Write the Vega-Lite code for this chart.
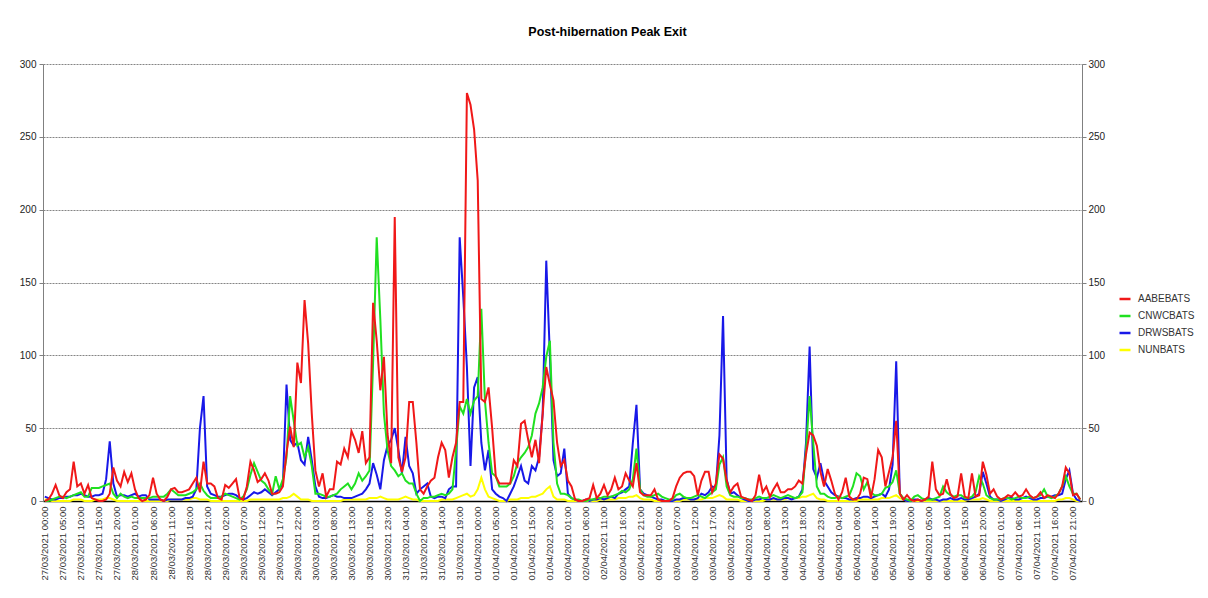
{
"$schema":"https://vega.github.io/schema/vega-lite/v6.json",
"autosize":{"type":"none"},
"width":1039,"height":437,
"padding":{"left":43,"top":64,"right":126,"bottom":97},
"background":"white",
"title":{"text":"Post-hibernation Peak Exit","fontSize":12.5,"fontWeight":"bold","font":"Liberation Sans","color":"#000","anchor":"middle","offset":21,"dx":45},
"config":{"view":{"stroke":null},"axis":{"labelFont":"Liberation Sans","labelFontSize":10,"labelColor":"#222","domainColor":"#808080","tickColor":"#808080","grid":false,"title":null},"legend":{"labelFont":"Liberation Sans"}},
"data":{"values":[
{"t":"27/03/2021 00:00","AABEBATS":0,"CNWCBATS":0,"DRWSBATS":3,"NUNBATS":1},
{"t":"27/03/2021 01:00","AABEBATS":1,"CNWCBATS":0,"DRWSBATS":2,"NUNBATS":1},
{"t":"27/03/2021 02:00","AABEBATS":5,"CNWCBATS":1,"DRWSBATS":1,"NUNBATS":0},
{"t":"27/03/2021 03:00","AABEBATS":11,"CNWCBATS":2,"DRWSBATS":1,"NUNBATS":0},
{"t":"27/03/2021 04:00","AABEBATS":4,"CNWCBATS":3,"DRWSBATS":2,"NUNBATS":0},
{"t":"27/03/2021 05:00","AABEBATS":2,"CNWCBATS":3,"DRWSBATS":2,"NUNBATS":0},
{"t":"27/03/2021 06:00","AABEBATS":6,"CNWCBATS":2,"DRWSBATS":3,"NUNBATS":0},
{"t":"27/03/2021 07:00","AABEBATS":8,"CNWCBATS":3,"DRWSBATS":3,"NUNBATS":0},
{"t":"27/03/2021 08:00","AABEBATS":27,"CNWCBATS":4,"DRWSBATS":4,"NUNBATS":1},
{"t":"27/03/2021 09:00","AABEBATS":10,"CNWCBATS":5,"DRWSBATS":4,"NUNBATS":1},
{"t":"27/03/2021 10:00","AABEBATS":12,"CNWCBATS":6,"DRWSBATS":5,"NUNBATS":1},
{"t":"27/03/2021 11:00","AABEBATS":5,"CNWCBATS":3,"DRWSBATS":4,"NUNBATS":0},
{"t":"27/03/2021 12:00","AABEBATS":11,"CNWCBATS":3,"DRWSBATS":3,"NUNBATS":0},
{"t":"27/03/2021 13:00","AABEBATS":2,"CNWCBATS":9,"DRWSBATS":3,"NUNBATS":0},
{"t":"27/03/2021 14:00","AABEBATS":1,"CNWCBATS":9,"DRWSBATS":4,"NUNBATS":1},
{"t":"27/03/2021 15:00","AABEBATS":0,"CNWCBATS":9,"DRWSBATS":4,"NUNBATS":1},
{"t":"27/03/2021 16:00","AABEBATS":0,"CNWCBATS":10,"DRWSBATS":5,"NUNBATS":1},
{"t":"27/03/2021 17:00","AABEBATS":1,"CNWCBATS":11,"DRWSBATS":15,"NUNBATS":2},
{"t":"27/03/2021 18:00","AABEBATS":5,"CNWCBATS":12,"DRWSBATS":41,"NUNBATS":2},
{"t":"27/03/2021 19:00","AABEBATS":23,"CNWCBATS":5,"DRWSBATS":12,"NUNBATS":1},
{"t":"27/03/2021 20:00","AABEBATS":14,"CNWCBATS":2,"DRWSBATS":3,"NUNBATS":0},
{"t":"27/03/2021 21:00","AABEBATS":10,"CNWCBATS":5,"DRWSBATS":4,"NUNBATS":0},
{"t":"27/03/2021 22:00","AABEBATS":20,"CNWCBATS":3,"DRWSBATS":4,"NUNBATS":0},
{"t":"27/03/2021 23:00","AABEBATS":13,"CNWCBATS":2,"DRWSBATS":3,"NUNBATS":0},
{"t":"28/03/2021 00:00","AABEBATS":19,"CNWCBATS":3,"DRWSBATS":4,"NUNBATS":0},
{"t":"28/03/2021 01:00","AABEBATS":8,"CNWCBATS":2,"DRWSBATS":5,"NUNBATS":0},
{"t":"28/03/2021 02:00","AABEBATS":2,"CNWCBATS":2,"DRWSBATS":3,"NUNBATS":0},
{"t":"28/03/2021 03:00","AABEBATS":0,"CNWCBATS":2,"DRWSBATS":4,"NUNBATS":0},
{"t":"28/03/2021 04:00","AABEBATS":1,"CNWCBATS":2,"DRWSBATS":4,"NUNBATS":0},
{"t":"28/03/2021 05:00","AABEBATS":4,"CNWCBATS":2,"DRWSBATS":1,"NUNBATS":0},
{"t":"28/03/2021 06:00","AABEBATS":16,"CNWCBATS":3,"DRWSBATS":1,"NUNBATS":0},
{"t":"28/03/2021 07:00","AABEBATS":5,"CNWCBATS":3,"DRWSBATS":1,"NUNBATS":0},
{"t":"28/03/2021 08:00","AABEBATS":1,"CNWCBATS":3,"DRWSBATS":1,"NUNBATS":0},
{"t":"28/03/2021 09:00","AABEBATS":0,"CNWCBATS":3,"DRWSBATS":0,"NUNBATS":0},
{"t":"28/03/2021 10:00","AABEBATS":3,"CNWCBATS":5,"DRWSBATS":1,"NUNBATS":0},
{"t":"28/03/2021 11:00","AABEBATS":8,"CNWCBATS":8,"DRWSBATS":1,"NUNBATS":1},
{"t":"28/03/2021 12:00","AABEBATS":9,"CNWCBATS":6,"DRWSBATS":1,"NUNBATS":1},
{"t":"28/03/2021 13:00","AABEBATS":6,"CNWCBATS":4,"DRWSBATS":1,"NUNBATS":1},
{"t":"28/03/2021 14:00","AABEBATS":6,"CNWCBATS":4,"DRWSBATS":1,"NUNBATS":1},
{"t":"28/03/2021 15:00","AABEBATS":7,"CNWCBATS":4,"DRWSBATS":2,"NUNBATS":1},
{"t":"28/03/2021 16:00","AABEBATS":8,"CNWCBATS":5,"DRWSBATS":2,"NUNBATS":1},
{"t":"28/03/2021 17:00","AABEBATS":12,"CNWCBATS":6,"DRWSBATS":3,"NUNBATS":2},
{"t":"28/03/2021 18:00","AABEBATS":16,"CNWCBATS":8,"DRWSBATS":8,"NUNBATS":2},
{"t":"28/03/2021 19:00","AABEBATS":6,"CNWCBATS":12,"DRWSBATS":50,"NUNBATS":1},
{"t":"28/03/2021 20:00","AABEBATS":27,"CNWCBATS":7,"DRWSBATS":72,"NUNBATS":1},
{"t":"28/03/2021 21:00","AABEBATS":12,"CNWCBATS":4,"DRWSBATS":10,"NUNBATS":1},
{"t":"28/03/2021 22:00","AABEBATS":12,"CNWCBATS":2,"DRWSBATS":5,"NUNBATS":0},
{"t":"28/03/2021 23:00","AABEBATS":10,"CNWCBATS":2,"DRWSBATS":4,"NUNBATS":0},
{"t":"29/03/2021 00:00","AABEBATS":2,"CNWCBATS":2,"DRWSBATS":3,"NUNBATS":0},
{"t":"29/03/2021 01:00","AABEBATS":1,"CNWCBATS":3,"DRWSBATS":3,"NUNBATS":0},
{"t":"29/03/2021 02:00","AABEBATS":11,"CNWCBATS":5,"DRWSBATS":4,"NUNBATS":0},
{"t":"29/03/2021 03:00","AABEBATS":9,"CNWCBATS":4,"DRWSBATS":5,"NUNBATS":0},
{"t":"29/03/2021 04:00","AABEBATS":12,"CNWCBATS":3,"DRWSBATS":5,"NUNBATS":0},
{"t":"29/03/2021 05:00","AABEBATS":15,"CNWCBATS":2,"DRWSBATS":4,"NUNBATS":0},
{"t":"29/03/2021 06:00","AABEBATS":2,"CNWCBATS":1,"DRWSBATS":2,"NUNBATS":0},
{"t":"29/03/2021 07:00","AABEBATS":1,"CNWCBATS":3,"DRWSBATS":1,"NUNBATS":0},
{"t":"29/03/2021 08:00","AABEBATS":10,"CNWCBATS":8,"DRWSBATS":2,"NUNBATS":0},
{"t":"29/03/2021 09:00","AABEBATS":27,"CNWCBATS":18,"DRWSBATS":4,"NUNBATS":1},
{"t":"29/03/2021 10:00","AABEBATS":21,"CNWCBATS":26,"DRWSBATS":6,"NUNBATS":1},
{"t":"29/03/2021 11:00","AABEBATS":13,"CNWCBATS":20,"DRWSBATS":5,"NUNBATS":1},
{"t":"29/03/2021 12:00","AABEBATS":15,"CNWCBATS":14,"DRWSBATS":6,"NUNBATS":1},
{"t":"29/03/2021 13:00","AABEBATS":19,"CNWCBATS":12,"DRWSBATS":8,"NUNBATS":1},
{"t":"29/03/2021 14:00","AABEBATS":14,"CNWCBATS":8,"DRWSBATS":6,"NUNBATS":1},
{"t":"29/03/2021 15:00","AABEBATS":5,"CNWCBATS":5,"DRWSBATS":4,"NUNBATS":1},
{"t":"29/03/2021 16:00","AABEBATS":5,"CNWCBATS":17,"DRWSBATS":6,"NUNBATS":1},
{"t":"29/03/2021 17:00","AABEBATS":6,"CNWCBATS":8,"DRWSBATS":8,"NUNBATS":1},
{"t":"29/03/2021 18:00","AABEBATS":10,"CNWCBATS":15,"DRWSBATS":12,"NUNBATS":2},
{"t":"29/03/2021 19:00","AABEBATS":33,"CNWCBATS":30,"DRWSBATS":80,"NUNBATS":2},
{"t":"29/03/2021 20:00","AABEBATS":51,"CNWCBATS":72,"DRWSBATS":42,"NUNBATS":3},
{"t":"29/03/2021 21:00","AABEBATS":37,"CNWCBATS":55,"DRWSBATS":38,"NUNBATS":5},
{"t":"29/03/2021 22:00","AABEBATS":95,"CNWCBATS":38,"DRWSBATS":40,"NUNBATS":3},
{"t":"29/03/2021 23:00","AABEBATS":81,"CNWCBATS":40,"DRWSBATS":28,"NUNBATS":1},
{"t":"30/03/2021 00:00","AABEBATS":138,"CNWCBATS":30,"DRWSBATS":25,"NUNBATS":1},
{"t":"30/03/2021 01:00","AABEBATS":108,"CNWCBATS":37,"DRWSBATS":44,"NUNBATS":1},
{"t":"30/03/2021 02:00","AABEBATS":60,"CNWCBATS":24,"DRWSBATS":28,"NUNBATS":0},
{"t":"30/03/2021 03:00","AABEBATS":21,"CNWCBATS":5,"DRWSBATS":10,"NUNBATS":0},
{"t":"30/03/2021 04:00","AABEBATS":10,"CNWCBATS":5,"DRWSBATS":3,"NUNBATS":0},
{"t":"30/03/2021 05:00","AABEBATS":19,"CNWCBATS":4,"DRWSBATS":2,"NUNBATS":0},
{"t":"30/03/2021 06:00","AABEBATS":3,"CNWCBATS":3,"DRWSBATS":2,"NUNBATS":0},
{"t":"30/03/2021 07:00","AABEBATS":8,"CNWCBATS":3,"DRWSBATS":3,"NUNBATS":0},
{"t":"30/03/2021 08:00","AABEBATS":8,"CNWCBATS":4,"DRWSBATS":4,"NUNBATS":0},
{"t":"30/03/2021 09:00","AABEBATS":27,"CNWCBATS":5,"DRWSBATS":3,"NUNBATS":0},
{"t":"30/03/2021 10:00","AABEBATS":25,"CNWCBATS":8,"DRWSBATS":3,"NUNBATS":0},
{"t":"30/03/2021 11:00","AABEBATS":36,"CNWCBATS":10,"DRWSBATS":2,"NUNBATS":1},
{"t":"30/03/2021 12:00","AABEBATS":30,"CNWCBATS":12,"DRWSBATS":2,"NUNBATS":1},
{"t":"30/03/2021 13:00","AABEBATS":48,"CNWCBATS":8,"DRWSBATS":2,"NUNBATS":1},
{"t":"30/03/2021 14:00","AABEBATS":42,"CNWCBATS":12,"DRWSBATS":3,"NUNBATS":1},
{"t":"30/03/2021 15:00","AABEBATS":33,"CNWCBATS":19,"DRWSBATS":4,"NUNBATS":1},
{"t":"30/03/2021 16:00","AABEBATS":48,"CNWCBATS":14,"DRWSBATS":5,"NUNBATS":1},
{"t":"30/03/2021 17:00","AABEBATS":26,"CNWCBATS":17,"DRWSBATS":8,"NUNBATS":1},
{"t":"30/03/2021 18:00","AABEBATS":30,"CNWCBATS":21,"DRWSBATS":12,"NUNBATS":2},
{"t":"30/03/2021 19:00","AABEBATS":136,"CNWCBATS":95,"DRWSBATS":26,"NUNBATS":2},
{"t":"30/03/2021 20:00","AABEBATS":110,"CNWCBATS":181,"DRWSBATS":18,"NUNBATS":2},
{"t":"30/03/2021 21:00","AABEBATS":76,"CNWCBATS":125,"DRWSBATS":8,"NUNBATS":3},
{"t":"30/03/2021 22:00","AABEBATS":99,"CNWCBATS":60,"DRWSBATS":28,"NUNBATS":2},
{"t":"30/03/2021 23:00","AABEBATS":46,"CNWCBATS":35,"DRWSBATS":38,"NUNBATS":1},
{"t":"31/03/2021 00:00","AABEBATS":26,"CNWCBATS":24,"DRWSBATS":42,"NUNBATS":1},
{"t":"31/03/2021 01:00","AABEBATS":195,"CNWCBATS":21,"DRWSBATS":50,"NUNBATS":1},
{"t":"31/03/2021 02:00","AABEBATS":30,"CNWCBATS":17,"DRWSBATS":35,"NUNBATS":1},
{"t":"31/03/2021 03:00","AABEBATS":20,"CNWCBATS":19,"DRWSBATS":19,"NUNBATS":2},
{"t":"31/03/2021 04:00","AABEBATS":30,"CNWCBATS":14,"DRWSBATS":44,"NUNBATS":3},
{"t":"31/03/2021 05:00","AABEBATS":68,"CNWCBATS":12,"DRWSBATS":24,"NUNBATS":2},
{"t":"31/03/2021 06:00","AABEBATS":68,"CNWCBATS":12,"DRWSBATS":19,"NUNBATS":1},
{"t":"31/03/2021 07:00","AABEBATS":40,"CNWCBATS":5,"DRWSBATS":5,"NUNBATS":1},
{"t":"31/03/2021 08:00","AABEBATS":8,"CNWCBATS":0,"DRWSBATS":8,"NUNBATS":0},
{"t":"31/03/2021 09:00","AABEBATS":5,"CNWCBATS":2,"DRWSBATS":10,"NUNBATS":0},
{"t":"31/03/2021 10:00","AABEBATS":10,"CNWCBATS":2,"DRWSBATS":12,"NUNBATS":0},
{"t":"31/03/2021 11:00","AABEBATS":14,"CNWCBATS":3,"DRWSBATS":3,"NUNBATS":0},
{"t":"31/03/2021 12:00","AABEBATS":16,"CNWCBATS":3,"DRWSBATS":2,"NUNBATS":0},
{"t":"31/03/2021 13:00","AABEBATS":30,"CNWCBATS":4,"DRWSBATS":3,"NUNBATS":0},
{"t":"31/03/2021 14:00","AABEBATS":40,"CNWCBATS":5,"DRWSBATS":3,"NUNBATS":1},
{"t":"31/03/2021 15:00","AABEBATS":35,"CNWCBATS":4,"DRWSBATS":2,"NUNBATS":1},
{"t":"31/03/2021 16:00","AABEBATS":16,"CNWCBATS":5,"DRWSBATS":8,"NUNBATS":1},
{"t":"31/03/2021 17:00","AABEBATS":30,"CNWCBATS":8,"DRWSBATS":10,"NUNBATS":1},
{"t":"31/03/2021 18:00","AABEBATS":40,"CNWCBATS":35,"DRWSBATS":10,"NUNBATS":2},
{"t":"31/03/2021 19:00","AABEBATS":68,"CNWCBATS":65,"DRWSBATS":181,"NUNBATS":3},
{"t":"31/03/2021 20:00","AABEBATS":68,"CNWCBATS":60,"DRWSBATS":140,"NUNBATS":4},
{"t":"31/03/2021 21:00","AABEBATS":280,"CNWCBATS":70,"DRWSBATS":92,"NUNBATS":5},
{"t":"31/03/2021 22:00","AABEBATS":272,"CNWCBATS":60,"DRWSBATS":24,"NUNBATS":3},
{"t":"31/03/2021 23:00","AABEBATS":255,"CNWCBATS":69,"DRWSBATS":78,"NUNBATS":4},
{"t":"01/04/2021 00:00","AABEBATS":220,"CNWCBATS":72,"DRWSBATS":85,"NUNBATS":8},
{"t":"01/04/2021 01:00","AABEBATS":70,"CNWCBATS":132,"DRWSBATS":40,"NUNBATS":16},
{"t":"01/04/2021 02:00","AABEBATS":68,"CNWCBATS":69,"DRWSBATS":21,"NUNBATS":8},
{"t":"01/04/2021 03:00","AABEBATS":78,"CNWCBATS":40,"DRWSBATS":35,"NUNBATS":3},
{"t":"01/04/2021 04:00","AABEBATS":50,"CNWCBATS":19,"DRWSBATS":8,"NUNBATS":2},
{"t":"01/04/2021 05:00","AABEBATS":17,"CNWCBATS":17,"DRWSBATS":5,"NUNBATS":1},
{"t":"01/04/2021 06:00","AABEBATS":12,"CNWCBATS":10,"DRWSBATS":3,"NUNBATS":0},
{"t":"01/04/2021 07:00","AABEBATS":12,"CNWCBATS":10,"DRWSBATS":2,"NUNBATS":0},
{"t":"01/04/2021 08:00","AABEBATS":12,"CNWCBATS":10,"DRWSBATS":0,"NUNBATS":0},
{"t":"01/04/2021 09:00","AABEBATS":12,"CNWCBATS":12,"DRWSBATS":5,"NUNBATS":1},
{"t":"01/04/2021 10:00","AABEBATS":28,"CNWCBATS":17,"DRWSBATS":10,"NUNBATS":1},
{"t":"01/04/2021 11:00","AABEBATS":24,"CNWCBATS":26,"DRWSBATS":17,"NUNBATS":1},
{"t":"01/04/2021 12:00","AABEBATS":53,"CNWCBATS":30,"DRWSBATS":24,"NUNBATS":2},
{"t":"01/04/2021 13:00","AABEBATS":55,"CNWCBATS":33,"DRWSBATS":14,"NUNBATS":2},
{"t":"01/04/2021 14:00","AABEBATS":42,"CNWCBATS":37,"DRWSBATS":12,"NUNBATS":2},
{"t":"01/04/2021 15:00","AABEBATS":30,"CNWCBATS":45,"DRWSBATS":24,"NUNBATS":3},
{"t":"01/04/2021 16:00","AABEBATS":42,"CNWCBATS":60,"DRWSBATS":21,"NUNBATS":3},
{"t":"01/04/2021 17:00","AABEBATS":26,"CNWCBATS":67,"DRWSBATS":30,"NUNBATS":4},
{"t":"01/04/2021 18:00","AABEBATS":60,"CNWCBATS":78,"DRWSBATS":60,"NUNBATS":5},
{"t":"01/04/2021 19:00","AABEBATS":92,"CNWCBATS":99,"DRWSBATS":165,"NUNBATS":8},
{"t":"01/04/2021 20:00","AABEBATS":80,"CNWCBATS":110,"DRWSBATS":100,"NUNBATS":10},
{"t":"01/04/2021 21:00","AABEBATS":69,"CNWCBATS":40,"DRWSBATS":28,"NUNBATS":3},
{"t":"01/04/2021 22:00","AABEBATS":40,"CNWCBATS":12,"DRWSBATS":17,"NUNBATS":1},
{"t":"01/04/2021 23:00","AABEBATS":24,"CNWCBATS":5,"DRWSBATS":19,"NUNBATS":1},
{"t":"02/04/2021 00:00","AABEBATS":28,"CNWCBATS":5,"DRWSBATS":36,"NUNBATS":1},
{"t":"02/04/2021 01:00","AABEBATS":14,"CNWCBATS":4,"DRWSBATS":5,"NUNBATS":0},
{"t":"02/04/2021 02:00","AABEBATS":10,"CNWCBATS":2,"DRWSBATS":2,"NUNBATS":0},
{"t":"02/04/2021 03:00","AABEBATS":1,"CNWCBATS":1,"DRWSBATS":1,"NUNBATS":0},
{"t":"02/04/2021 04:00","AABEBATS":0,"CNWCBATS":1,"DRWSBATS":0,"NUNBATS":0},
{"t":"02/04/2021 05:00","AABEBATS":0,"CNWCBATS":0,"DRWSBATS":0,"NUNBATS":0},
{"t":"02/04/2021 06:00","AABEBATS":1,"CNWCBATS":0,"DRWSBATS":1,"NUNBATS":0},
{"t":"02/04/2021 07:00","AABEBATS":2,"CNWCBATS":1,"DRWSBATS":0,"NUNBATS":0},
{"t":"02/04/2021 08:00","AABEBATS":11,"CNWCBATS":1,"DRWSBATS":1,"NUNBATS":0},
{"t":"02/04/2021 09:00","AABEBATS":2,"CNWCBATS":2,"DRWSBATS":1,"NUNBATS":0},
{"t":"02/04/2021 10:00","AABEBATS":5,"CNWCBATS":2,"DRWSBATS":2,"NUNBATS":1},
{"t":"02/04/2021 11:00","AABEBATS":11,"CNWCBATS":3,"DRWSBATS":1,"NUNBATS":1},
{"t":"02/04/2021 12:00","AABEBATS":4,"CNWCBATS":3,"DRWSBATS":2,"NUNBATS":1},
{"t":"02/04/2021 13:00","AABEBATS":8,"CNWCBATS":3,"DRWSBATS":3,"NUNBATS":1},
{"t":"02/04/2021 14:00","AABEBATS":16,"CNWCBATS":4,"DRWSBATS":2,"NUNBATS":1},
{"t":"02/04/2021 15:00","AABEBATS":8,"CNWCBATS":5,"DRWSBATS":5,"NUNBATS":2},
{"t":"02/04/2021 16:00","AABEBATS":10,"CNWCBATS":7,"DRWSBATS":6,"NUNBATS":2},
{"t":"02/04/2021 17:00","AABEBATS":19,"CNWCBATS":6,"DRWSBATS":8,"NUNBATS":2},
{"t":"02/04/2021 18:00","AABEBATS":14,"CNWCBATS":8,"DRWSBATS":10,"NUNBATS":3},
{"t":"02/04/2021 19:00","AABEBATS":10,"CNWCBATS":15,"DRWSBATS":40,"NUNBATS":3},
{"t":"02/04/2021 20:00","AABEBATS":26,"CNWCBATS":36,"DRWSBATS":66,"NUNBATS":4},
{"t":"02/04/2021 21:00","AABEBATS":6,"CNWCBATS":8,"DRWSBATS":8,"NUNBATS":2},
{"t":"02/04/2021 22:00","AABEBATS":4,"CNWCBATS":4,"DRWSBATS":5,"NUNBATS":1},
{"t":"02/04/2021 23:00","AABEBATS":4,"CNWCBATS":3,"DRWSBATS":4,"NUNBATS":1},
{"t":"03/04/2021 00:00","AABEBATS":4,"CNWCBATS":3,"DRWSBATS":3,"NUNBATS":1},
{"t":"03/04/2021 01:00","AABEBATS":8,"CNWCBATS":4,"DRWSBATS":2,"NUNBATS":0},
{"t":"03/04/2021 02:00","AABEBATS":1,"CNWCBATS":5,"DRWSBATS":1,"NUNBATS":0},
{"t":"03/04/2021 03:00","AABEBATS":0,"CNWCBATS":3,"DRWSBATS":1,"NUNBATS":0},
{"t":"03/04/2021 04:00","AABEBATS":0,"CNWCBATS":2,"DRWSBATS":0,"NUNBATS":0},
{"t":"03/04/2021 05:00","AABEBATS":0,"CNWCBATS":1,"DRWSBATS":0,"NUNBATS":0},
{"t":"03/04/2021 06:00","AABEBATS":2,"CNWCBATS":1,"DRWSBATS":0,"NUNBATS":0},
{"t":"03/04/2021 07:00","AABEBATS":10,"CNWCBATS":4,"DRWSBATS":1,"NUNBATS":0},
{"t":"03/04/2021 08:00","AABEBATS":16,"CNWCBATS":5,"DRWSBATS":1,"NUNBATS":0},
{"t":"03/04/2021 09:00","AABEBATS":19,"CNWCBATS":3,"DRWSBATS":2,"NUNBATS":1},
{"t":"03/04/2021 10:00","AABEBATS":20,"CNWCBATS":2,"DRWSBATS":2,"NUNBATS":1},
{"t":"03/04/2021 11:00","AABEBATS":20,"CNWCBATS":2,"DRWSBATS":1,"NUNBATS":1},
{"t":"03/04/2021 12:00","AABEBATS":17,"CNWCBATS":3,"DRWSBATS":1,"NUNBATS":1},
{"t":"03/04/2021 13:00","AABEBATS":4,"CNWCBATS":4,"DRWSBATS":2,"NUNBATS":1},
{"t":"03/04/2021 14:00","AABEBATS":14,"CNWCBATS":3,"DRWSBATS":5,"NUNBATS":1},
{"t":"03/04/2021 15:00","AABEBATS":20,"CNWCBATS":2,"DRWSBATS":4,"NUNBATS":2},
{"t":"03/04/2021 16:00","AABEBATS":20,"CNWCBATS":4,"DRWSBATS":6,"NUNBATS":2},
{"t":"03/04/2021 17:00","AABEBATS":6,"CNWCBATS":6,"DRWSBATS":10,"NUNBATS":2},
{"t":"03/04/2021 18:00","AABEBATS":12,"CNWCBATS":8,"DRWSBATS":9,"NUNBATS":3},
{"t":"03/04/2021 19:00","AABEBATS":32,"CNWCBATS":25,"DRWSBATS":45,"NUNBATS":4},
{"t":"03/04/2021 20:00","AABEBATS":29,"CNWCBATS":30,"DRWSBATS":127,"NUNBATS":3},
{"t":"03/04/2021 21:00","AABEBATS":14,"CNWCBATS":10,"DRWSBATS":15,"NUNBATS":1},
{"t":"03/04/2021 22:00","AABEBATS":6,"CNWCBATS":4,"DRWSBATS":5,"NUNBATS":1},
{"t":"03/04/2021 23:00","AABEBATS":10,"CNWCBATS":3,"DRWSBATS":6,"NUNBATS":1},
{"t":"04/04/2021 00:00","AABEBATS":12,"CNWCBATS":3,"DRWSBATS":4,"NUNBATS":1},
{"t":"04/04/2021 01:00","AABEBATS":3,"CNWCBATS":2,"DRWSBATS":2,"NUNBATS":0},
{"t":"04/04/2021 02:00","AABEBATS":2,"CNWCBATS":2,"DRWSBATS":1,"NUNBATS":0},
{"t":"04/04/2021 03:00","AABEBATS":1,"CNWCBATS":1,"DRWSBATS":0,"NUNBATS":0},
{"t":"04/04/2021 04:00","AABEBATS":0,"CNWCBATS":1,"DRWSBATS":0,"NUNBATS":0},
{"t":"04/04/2021 05:00","AABEBATS":4,"CNWCBATS":2,"DRWSBATS":1,"NUNBATS":0},
{"t":"04/04/2021 06:00","AABEBATS":18,"CNWCBATS":3,"DRWSBATS":1,"NUNBATS":0},
{"t":"04/04/2021 07:00","AABEBATS":6,"CNWCBATS":2,"DRWSBATS":2,"NUNBATS":0},
{"t":"04/04/2021 08:00","AABEBATS":10,"CNWCBATS":2,"DRWSBATS":1,"NUNBATS":1},
{"t":"04/04/2021 09:00","AABEBATS":3,"CNWCBATS":3,"DRWSBATS":1,"NUNBATS":1},
{"t":"04/04/2021 10:00","AABEBATS":8,"CNWCBATS":4,"DRWSBATS":2,"NUNBATS":1},
{"t":"04/04/2021 11:00","AABEBATS":12,"CNWCBATS":3,"DRWSBATS":1,"NUNBATS":1},
{"t":"04/04/2021 12:00","AABEBATS":6,"CNWCBATS":2,"DRWSBATS":1,"NUNBATS":1},
{"t":"04/04/2021 13:00","AABEBATS":6,"CNWCBATS":3,"DRWSBATS":2,"NUNBATS":1},
{"t":"04/04/2021 14:00","AABEBATS":8,"CNWCBATS":4,"DRWSBATS":2,"NUNBATS":2},
{"t":"04/04/2021 15:00","AABEBATS":8,"CNWCBATS":3,"DRWSBATS":1,"NUNBATS":2},
{"t":"04/04/2021 16:00","AABEBATS":10,"CNWCBATS":2,"DRWSBATS":2,"NUNBATS":2},
{"t":"04/04/2021 17:00","AABEBATS":14,"CNWCBATS":3,"DRWSBATS":3,"NUNBATS":2},
{"t":"04/04/2021 18:00","AABEBATS":12,"CNWCBATS":6,"DRWSBATS":8,"NUNBATS":3},
{"t":"04/04/2021 19:00","AABEBATS":32,"CNWCBATS":35,"DRWSBATS":40,"NUNBATS":3},
{"t":"04/04/2021 20:00","AABEBATS":47,"CNWCBATS":72,"DRWSBATS":106,"NUNBATS":4},
{"t":"04/04/2021 21:00","AABEBATS":45,"CNWCBATS":40,"DRWSBATS":22,"NUNBATS":5},
{"t":"04/04/2021 22:00","AABEBATS":38,"CNWCBATS":10,"DRWSBATS":16,"NUNBATS":2},
{"t":"04/04/2021 23:00","AABEBATS":20,"CNWCBATS":5,"DRWSBATS":26,"NUNBATS":1},
{"t":"05/04/2021 00:00","AABEBATS":10,"CNWCBATS":5,"DRWSBATS":14,"NUNBATS":1},
{"t":"05/04/2021 01:00","AABEBATS":22,"CNWCBATS":3,"DRWSBATS":10,"NUNBATS":0},
{"t":"05/04/2021 02:00","AABEBATS":14,"CNWCBATS":2,"DRWSBATS":6,"NUNBATS":0},
{"t":"05/04/2021 03:00","AABEBATS":5,"CNWCBATS":2,"DRWSBATS":4,"NUNBATS":0},
{"t":"05/04/2021 04:00","AABEBATS":1,"CNWCBATS":3,"DRWSBATS":3,"NUNBATS":0},
{"t":"05/04/2021 05:00","AABEBATS":6,"CNWCBATS":2,"DRWSBATS":2,"NUNBATS":0},
{"t":"05/04/2021 06:00","AABEBATS":16,"CNWCBATS":3,"DRWSBATS":2,"NUNBATS":0},
{"t":"05/04/2021 07:00","AABEBATS":3,"CNWCBATS":4,"DRWSBATS":1,"NUNBATS":0},
{"t":"05/04/2021 08:00","AABEBATS":1,"CNWCBATS":10,"DRWSBATS":1,"NUNBATS":0},
{"t":"05/04/2021 09:00","AABEBATS":1,"CNWCBATS":19,"DRWSBATS":2,"NUNBATS":0},
{"t":"05/04/2021 10:00","AABEBATS":5,"CNWCBATS":17,"DRWSBATS":2,"NUNBATS":1},
{"t":"05/04/2021 11:00","AABEBATS":16,"CNWCBATS":8,"DRWSBATS":3,"NUNBATS":1},
{"t":"05/04/2021 12:00","AABEBATS":15,"CNWCBATS":13,"DRWSBATS":3,"NUNBATS":1},
{"t":"05/04/2021 13:00","AABEBATS":2,"CNWCBATS":6,"DRWSBATS":2,"NUNBATS":1},
{"t":"05/04/2021 14:00","AABEBATS":15,"CNWCBATS":4,"DRWSBATS":3,"NUNBATS":1},
{"t":"05/04/2021 15:00","AABEBATS":35,"CNWCBATS":4,"DRWSBATS":4,"NUNBATS":1},
{"t":"05/04/2021 16:00","AABEBATS":30,"CNWCBATS":5,"DRWSBATS":5,"NUNBATS":2},
{"t":"05/04/2021 17:00","AABEBATS":10,"CNWCBATS":9,"DRWSBATS":3,"NUNBATS":2},
{"t":"05/04/2021 18:00","AABEBATS":20,"CNWCBATS":10,"DRWSBATS":8,"NUNBATS":2},
{"t":"05/04/2021 19:00","AABEBATS":30,"CNWCBATS":13,"DRWSBATS":25,"NUNBATS":3},
{"t":"05/04/2021 20:00","AABEBATS":55,"CNWCBATS":21,"DRWSBATS":96,"NUNBATS":4},
{"t":"05/04/2021 21:00","AABEBATS":5,"CNWCBATS":5,"DRWSBATS":5,"NUNBATS":2},
{"t":"05/04/2021 22:00","AABEBATS":1,"CNWCBATS":2,"DRWSBATS":1,"NUNBATS":1},
{"t":"05/04/2021 23:00","AABEBATS":4,"CNWCBATS":1,"DRWSBATS":0,"NUNBATS":0},
{"t":"06/04/2021 00:00","AABEBATS":1,"CNWCBATS":0,"DRWSBATS":0,"NUNBATS":0},
{"t":"06/04/2021 01:00","AABEBATS":0,"CNWCBATS":3,"DRWSBATS":1,"NUNBATS":0},
{"t":"06/04/2021 02:00","AABEBATS":1,"CNWCBATS":4,"DRWSBATS":1,"NUNBATS":0},
{"t":"06/04/2021 03:00","AABEBATS":0,"CNWCBATS":2,"DRWSBATS":0,"NUNBATS":0},
{"t":"06/04/2021 04:00","AABEBATS":1,"CNWCBATS":1,"DRWSBATS":1,"NUNBATS":0},
{"t":"06/04/2021 05:00","AABEBATS":3,"CNWCBATS":1,"DRWSBATS":2,"NUNBATS":0},
{"t":"06/04/2021 06:00","AABEBATS":27,"CNWCBATS":1,"DRWSBATS":1,"NUNBATS":0},
{"t":"06/04/2021 07:00","AABEBATS":8,"CNWCBATS":2,"DRWSBATS":1,"NUNBATS":0},
{"t":"06/04/2021 08:00","AABEBATS":4,"CNWCBATS":3,"DRWSBATS":0,"NUNBATS":0},
{"t":"06/04/2021 09:00","AABEBATS":5,"CNWCBATS":10,"DRWSBATS":1,"NUNBATS":0},
{"t":"06/04/2021 10:00","AABEBATS":15,"CNWCBATS":6,"DRWSBATS":1,"NUNBATS":0},
{"t":"06/04/2021 11:00","AABEBATS":5,"CNWCBATS":4,"DRWSBATS":2,"NUNBATS":0},
{"t":"06/04/2021 12:00","AABEBATS":2,"CNWCBATS":3,"DRWSBATS":1,"NUNBATS":0},
{"t":"06/04/2021 13:00","AABEBATS":3,"CNWCBATS":4,"DRWSBATS":1,"NUNBATS":0},
{"t":"06/04/2021 14:00","AABEBATS":19,"CNWCBATS":4,"DRWSBATS":2,"NUNBATS":0},
{"t":"06/04/2021 15:00","AABEBATS":3,"CNWCBATS":2,"DRWSBATS":1,"NUNBATS":0},
{"t":"06/04/2021 16:00","AABEBATS":2,"CNWCBATS":2,"DRWSBATS":1,"NUNBATS":1},
{"t":"06/04/2021 17:00","AABEBATS":19,"CNWCBATS":3,"DRWSBATS":2,"NUNBATS":1},
{"t":"06/04/2021 18:00","AABEBATS":3,"CNWCBATS":6,"DRWSBATS":3,"NUNBATS":1},
{"t":"06/04/2021 19:00","AABEBATS":4,"CNWCBATS":17,"DRWSBATS":5,"NUNBATS":1},
{"t":"06/04/2021 20:00","AABEBATS":27,"CNWCBATS":12,"DRWSBATS":20,"NUNBATS":2},
{"t":"06/04/2021 21:00","AABEBATS":18,"CNWCBATS":4,"DRWSBATS":12,"NUNBATS":1},
{"t":"06/04/2021 22:00","AABEBATS":5,"CNWCBATS":2,"DRWSBATS":3,"NUNBATS":0},
{"t":"06/04/2021 23:00","AABEBATS":8,"CNWCBATS":1,"DRWSBATS":1,"NUNBATS":0},
{"t":"07/04/2021 00:00","AABEBATS":3,"CNWCBATS":1,"DRWSBATS":1,"NUNBATS":0},
{"t":"07/04/2021 01:00","AABEBATS":1,"CNWCBATS":1,"DRWSBATS":0,"NUNBATS":0},
{"t":"07/04/2021 02:00","AABEBATS":2,"CNWCBATS":2,"DRWSBATS":1,"NUNBATS":0},
{"t":"07/04/2021 03:00","AABEBATS":4,"CNWCBATS":2,"DRWSBATS":2,"NUNBATS":0},
{"t":"07/04/2021 04:00","AABEBATS":3,"CNWCBATS":1,"DRWSBATS":2,"NUNBATS":0},
{"t":"07/04/2021 05:00","AABEBATS":6,"CNWCBATS":2,"DRWSBATS":1,"NUNBATS":0},
{"t":"07/04/2021 06:00","AABEBATS":3,"CNWCBATS":3,"DRWSBATS":1,"NUNBATS":0},
{"t":"07/04/2021 07:00","AABEBATS":4,"CNWCBATS":2,"DRWSBATS":2,"NUNBATS":0},
{"t":"07/04/2021 08:00","AABEBATS":8,"CNWCBATS":2,"DRWSBATS":3,"NUNBATS":0},
{"t":"07/04/2021 09:00","AABEBATS":4,"CNWCBATS":3,"DRWSBATS":2,"NUNBATS":0},
{"t":"07/04/2021 10:00","AABEBATS":2,"CNWCBATS":2,"DRWSBATS":1,"NUNBATS":0},
{"t":"07/04/2021 11:00","AABEBATS":3,"CNWCBATS":3,"DRWSBATS":1,"NUNBATS":0},
{"t":"07/04/2021 12:00","AABEBATS":6,"CNWCBATS":4,"DRWSBATS":2,"NUNBATS":0},
{"t":"07/04/2021 13:00","AABEBATS":2,"CNWCBATS":8,"DRWSBATS":2,"NUNBATS":0},
{"t":"07/04/2021 14:00","AABEBATS":4,"CNWCBATS":3,"DRWSBATS":3,"NUNBATS":0},
{"t":"07/04/2021 15:00","AABEBATS":3,"CNWCBATS":2,"DRWSBATS":3,"NUNBATS":0},
{"t":"07/04/2021 16:00","AABEBATS":2,"CNWCBATS":3,"DRWSBATS":4,"NUNBATS":0},
{"t":"07/04/2021 17:00","AABEBATS":5,"CNWCBATS":5,"DRWSBATS":4,"NUNBATS":1},
{"t":"07/04/2021 18:00","AABEBATS":10,"CNWCBATS":10,"DRWSBATS":5,"NUNBATS":1},
{"t":"07/04/2021 19:00","AABEBATS":23,"CNWCBATS":17,"DRWSBATS":15,"NUNBATS":2},
{"t":"07/04/2021 20:00","AABEBATS":19,"CNWCBATS":10,"DRWSBATS":21,"NUNBATS":2},
{"t":"07/04/2021 21:00","AABEBATS":4,"CNWCBATS":5,"DRWSBATS":5,"NUNBATS":1},
{"t":"07/04/2021 22:00","AABEBATS":5,"CNWCBATS":5,"DRWSBATS":1,"NUNBATS":0},
{"t":"07/04/2021 23:00","AABEBATS":1,"CNWCBATS":1,"DRWSBATS":0,"NUNBATS":0}
]},
"transform":[{"fold":["NUNBATS","DRWSBATS","CNWCBATS","AABEBATS"],"as":["series","value"]}],
"encoding":{
"x":{"field":"t","type":"ordinal","sort":null,"scale":{"type":"point","padding":0.5},
"axis":{"values":["27/03/2021 00:00","27/03/2021 05:00","27/03/2021 10:00","27/03/2021 15:00","27/03/2021 20:00","28/03/2021 01:00","28/03/2021 06:00","28/03/2021 11:00","28/03/2021 16:00","28/03/2021 21:00","29/03/2021 02:00","29/03/2021 07:00","29/03/2021 12:00","29/03/2021 17:00","29/03/2021 22:00","30/03/2021 03:00","30/03/2021 08:00","30/03/2021 13:00","30/03/2021 18:00","30/03/2021 23:00","31/03/2021 04:00","31/03/2021 09:00","31/03/2021 14:00","31/03/2021 19:00","01/04/2021 00:00","01/04/2021 05:00","01/04/2021 10:00","01/04/2021 15:00","01/04/2021 20:00","02/04/2021 01:00","02/04/2021 06:00","02/04/2021 11:00","02/04/2021 16:00","02/04/2021 21:00","03/04/2021 02:00","03/04/2021 07:00","03/04/2021 12:00","03/04/2021 17:00","03/04/2021 22:00","04/04/2021 03:00","04/04/2021 08:00","04/04/2021 13:00","04/04/2021 18:00","04/04/2021 23:00","05/04/2021 04:00","05/04/2021 09:00","05/04/2021 14:00","05/04/2021 19:00","06/04/2021 00:00","06/04/2021 05:00","06/04/2021 10:00","06/04/2021 15:00","06/04/2021 20:00","07/04/2021 01:00","07/04/2021 06:00","07/04/2021 11:00","07/04/2021 16:00","07/04/2021 21:00"],
"labelAngle":270,"labelFontSize":9.5,"labelColor":"#333","labelPadding":5,"ticks":false,"domainColor":"#000","domainWidth":1.5,"labelOverlap":false,"labelBound":false,"title":null}}
},
"layer":[
{"mark":{"type":"line","strokeWidth":2},
"encoding":{
"y":{"field":"value","type":"quantitative","scale":{"domain":[0,300]},
"axis":{"values":[0,50,100,150,200,250,300],"grid":true,"gridColor":"#858585","gridDash":[2,1],"gridWidth":1,"tickSize":4,"labelPadding":3,"title":null}},
"color":{"field":"series","type":"nominal","scale":{"domain":["AABEBATS","CNWCBATS","DRWSBATS","NUNBATS"],"range":["#f01818","#20e020","#1818e8","#ffff00"]},
"legend":{"orient":"none","legendX":1075,"legendY":228,"title":null,"symbolType":"stroke","symbolStrokeWidth":2.5,"symbolSize":121,"labelFontSize":10,"labelColor":"#333","rowPadding":5,"labelOffset":6}}
}},
{"mark":{"type":"line","opacity":0},
"encoding":{
"y":{"field":"value","type":"quantitative","scale":{"domain":[0,300]},
"axis":{"orient":"right","values":[0,50,100,150,200,250,300],"grid":false,"tickSize":4,"labelPadding":2,"title":null}},
"detail":{"field":"series"}
}}
],
"resolve":{"axis":{"y":"independent"}}
}
